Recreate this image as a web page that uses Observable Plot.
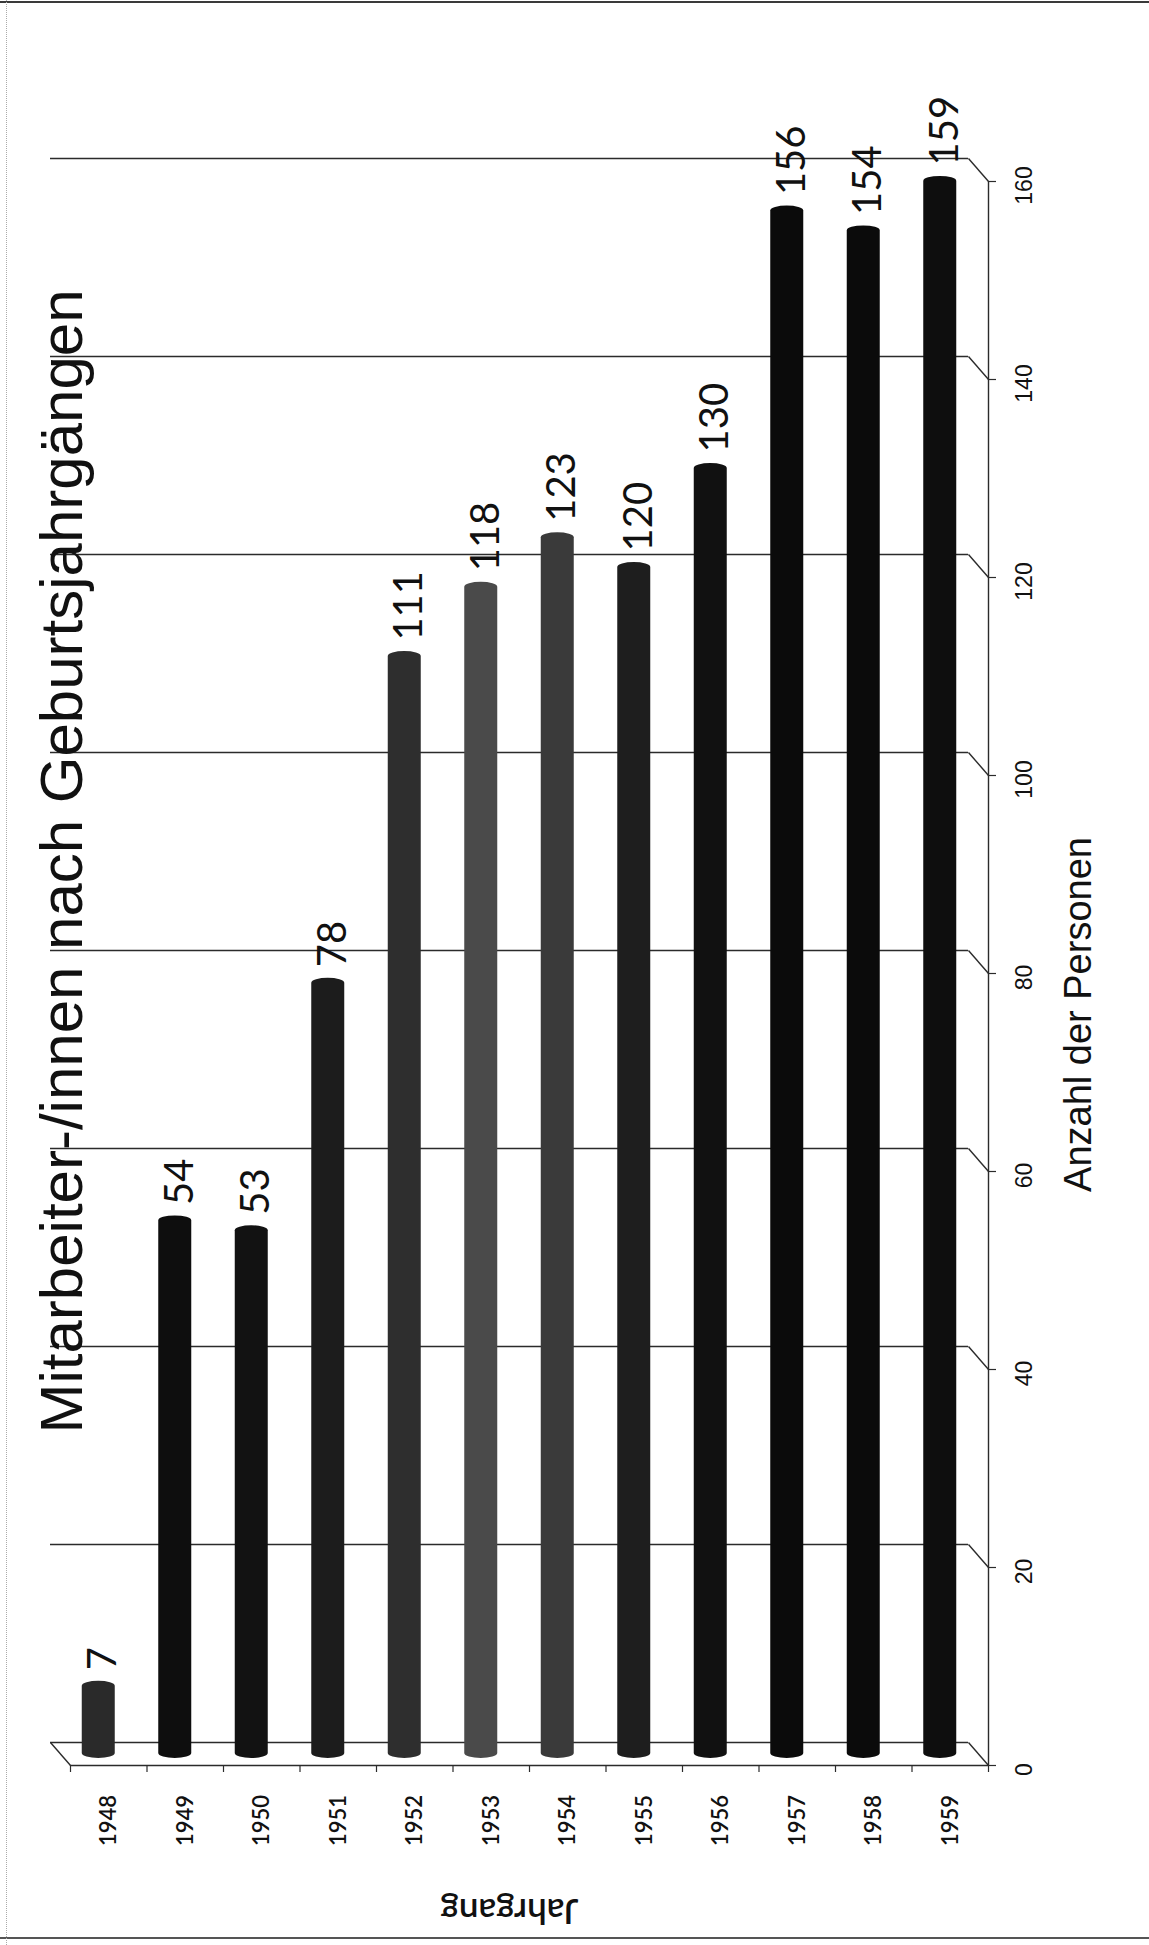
<!DOCTYPE html>
<html>
<head>
<meta charset="utf-8">
<script src="https://cdn.jsdelivr.net/npm/d3@7"></script>
<script src="https://cdn.jsdelivr.net/npm/@observablehq/plot@0.6"></script>
<style>
  html, body { margin: 0; padding: 0; background: #fff; }
  #wrap { position: relative; width: 1149px; height: 1945px; overflow: hidden; }
  #wrap svg { position: absolute; left: 0; top: 0; }
  .edge { position: absolute; pointer-events: none; }
</style>
</head>
<body>
<div id="wrap">
  <div class="edge" style="left:0;top:1px;width:1149px;border-top:2px solid #3a3a3a;"></div>
  <div class="edge" style="left:0;top:1937px;width:1149px;border-top:2px solid #555;"></div>
  <div class="edge" style="left:6px;top:0;height:1945px;border-left:1px dotted #aaa;"></div>
</div>
<script>
// ---- data ----
const years = ["1948","1949","1950","1951","1952","1953","1954","1955","1956","1957","1958","1959"];
const counts = [7, 54, 53, 78, 111, 118, 123, 120, 130, 156, 154, 159];
const valueTicks = [0, 20, 40, 60, 80, 100, 120, 140, 160];
const titleText = "Mitarbeiter-/innen nach Geburtsjahrgängen";
const categoryLabel = "Jahrgang";
const valueLabel = "Anzahl der Personen";

// ---- style ----
const barShades = ["#2a2a2a","#0e0e0e","#121212","#1c1c1c","#2e2e2e","#4a4a4a","#3a3a3a","#1e1e1e","#111111","#0b0b0b","#0b0b0b","#0e0e0e"];
const W = 1149, H = 1945;
const mL = 50, mR = 181, mT = 158, mB = 203;
const nCat = years.length;
const yMax = 160;
const bandPx = (W - mL - mR) / nCat;        // px per category
const unitPx = (H - mT - mB) / yMax;         // px per value unit
const depthX = 20, depthY = 23;              // back wall -> front edge (px)
const dX = depthX / bandPx, dY = depthY / unitPx; // same offsets in data units
const calibriLike = "Lato, 'Open Sans', sans-serif";
const arialLike = "'Liberation Sans', Arial, sans-serif";
const lineColor = "#2b2b2b";

const table = years.map((year, i) => ({i, year, count: counts[i]}));

const chart = Plot.plot({
  width: W,
  height: H,
  marginLeft: mL, marginRight: mR, marginTop: mT, marginBottom: mB,
  x: {type: "linear", domain: [0, nCat], axis: null},
  y: {type: "linear", domain: [0, yMax], axis: null},
  color: {type: "ordinal", domain: years, range: barShades},
  style: {background: "transparent", overflow: "visible"},
  marks: [
    // back wall gridlines
    Plot.ruleY(valueTicks, {y: d => d, stroke: lineColor, strokeWidth: 1.4}),
    // side wall diagonals
    Plot.link(valueTicks, {x1: () => nCat, y1: d => d, x2: () => nCat + dX, y2: d => d - dY, stroke: lineColor, strokeWidth: 1.4}),
    // floor: left diagonal and front edge
    Plot.link([0], {x1: () => 0, y1: () => 0, x2: () => dX, y2: () => -dY, stroke: lineColor, strokeWidth: 1.4}),
    Plot.link([0], {x1: () => dX, y1: () => -dY, x2: () => nCat + dX, y2: () => -dY, stroke: lineColor, strokeWidth: 1.6}),
    // category ticks under front floor edge
    Plot.ruleX(d3.range(nCat + 1), {x: d => d + dX, y1: () => -dY, y2: () => -dY - 7 / unitPx, stroke: lineColor, strokeWidth: 1.2}),
    // value axis line on the front edge
    Plot.link([0], {x1: () => nCat + dX, y1: () => -dY, x2: () => nCat + dX, y2: () => yMax - dY, stroke: lineColor, strokeWidth: 1.4}),
    // value axis ticks
    Plot.ruleY(valueTicks, {y: d => d - dY, x1: () => nCat + dX, x2: () => nCat + dX + 8 / bandPx, stroke: lineColor, strokeWidth: 1.2}),
    // cylinders
    Plot.rectY(table, {
      x1: d => d.i, x2: d => d.i + 1, y1: () => 0, y2: d => d.count,
      fill: d => d.year,
      insetLeft: 21.75, insetRight: 21.75, insetTop: -4, insetBottom: -4,
      rx: 16.5, ry: 5, dx: 10, dy: 12
    }),
    // value labels
    Plot.text(table, {
      x: d => d.i + 0.5, y: d => d.count, text: d => String(d.count),
      rotate: -90, textAnchor: "start", dx: 14.5, dy: -3,
      fontSize: 40, fontFamily: calibriLike, fill: "#111"
    }),
    // category labels
    Plot.text(table, {
      x: d => d.i + 0.5, y: () => 0, text: d => d.year,
      rotate: -90, textAnchor: "middle", dx: 20.5, dy: 78,
      fontSize: 22, fontFamily: calibriLike, fontWeight: 600, fill: "#111"
    }),
    // value axis tick labels
    Plot.text(valueTicks, {
      x: () => nCat, y: d => d, text: d => String(d),
      rotate: -90, textAnchor: "middle", dx: 56.5, dy: 27,
      fontSize: 23, fontFamily: arialLike, fill: "#111"
    }),
    // value axis title
    Plot.text([valueLabel], {
      frameAnchor: "right", text: d => d, rotate: -90, textAnchor: "middle",
      dx: 110, dy: 64, fontSize: 38, fontFamily: arialLike, fill: "#111"
    }),
    // category axis title (upside down)
    Plot.text([categoryLabel], {
      frameAnchor: "bottom", text: d => d, rotate: 180, textAnchor: "middle",
      dx: 0, dy: 156, fontSize: 35, fontFamily: calibriLike, fontWeight: 600, fill: "#111"
    }),
    // chart title
    Plot.text([titleText], {
      frameAnchor: "bottom-left", text: d => d, rotate: -90, textAnchor: "start",
      dx: 31, dy: -309, fontSize: 60, fontFamily: arialLike, fill: "#111"
    })
  ]
});
document.getElementById("wrap").appendChild(chart);
</script>
</body>
</html>
